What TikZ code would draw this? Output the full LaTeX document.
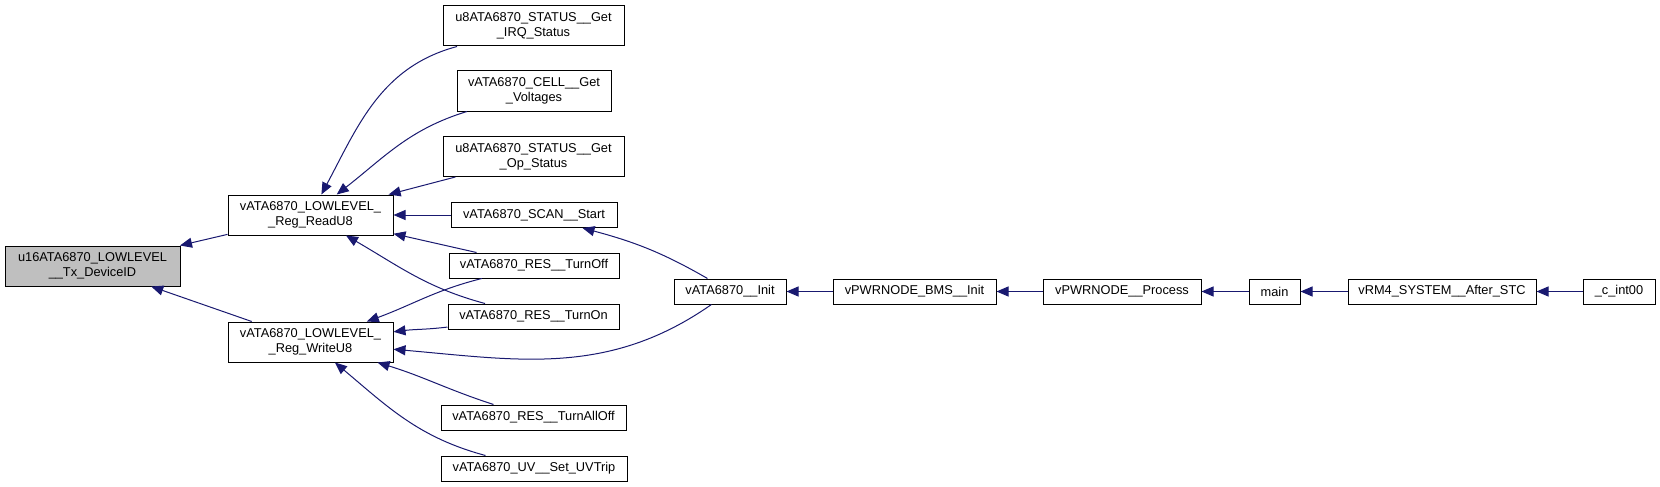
\documentclass[tikz,border=0pt]{standalone}
\usepackage{fontspec}
\setmainfont{Liberation Sans}
\usepackage{xcolor}
\definecolor{callnavy}{RGB}{25, 25, 112}
\definecolor{focusgrey}{RGB}{191, 191, 191}
\usetikzlibrary{arrows.meta}

\begin{document}
\begin{tikzpicture}[x=1pt, y=-1pt,
  fn/.style={draw=black, line width=1pt, fill=white, inner sep=0pt, minimum height=25pt, align=center, font=\fontsize{12.8}{15}\selectfont},
  fntwo/.style={fn, minimum height=40pt},
  call/.style={callnavy, line width=1pt, {Triangle[length=12pt, width=10pt]}-}]
  \useasboundingbox (0, 0) rectangle (1660, 487);

  % the function whose callers are shown
  \node[fntwo, fill=focusgrey, minimum width=175pt] (txid) at (92.5, 266) {u16ATA6870\_LOWLEVEL\\\_\_Tx\_DeviceID};

  % low level register access
  \node[fntwo, minimum width=165pt] (readu8) at (310.5, 215) {vATA6870\_LOWLEVEL\_\\\_Reg\_ReadU8};
  \node[fntwo, minimum width=165pt] (writeu8) at (310.5, 342) {vATA6870\_LOWLEVEL\_\\\_Reg\_WriteU8};

  % callers of the register access
  \node[fntwo, minimum width=181pt] (irqstat) at (533.5, 26) {u8ATA6870\_STATUS\_\_Get\\\_IRQ\_Status};
  \node[fntwo, minimum width=154pt] (cellvolt) at (534, 91) {vATA6870\_CELL\_\_Get\\\_Voltages};
  \node[fntwo, minimum width=181pt] (opstat) at (533.5, 156.5) {u8ATA6870\_STATUS\_\_Get\\\_Op\_Status};
  \node[fn, minimum width=166pt] (scanstart) at (534, 215) {vATA6870\_SCAN\_\_Start};
  \node[fn, minimum width=170pt] (resoff) at (534, 265.5) {vATA6870\_RES\_\_TurnOff};
  \node[fn, minimum width=171pt] (reson) at (533.5, 316.5) {vATA6870\_RES\_\_TurnOn};
  \node[fn, minimum width=185pt] (resalloff) at (533.5, 417.5) {vATA6870\_RES\_\_TurnAllOff};
  \node[fn, minimum width=186pt] (uvtrip) at (534, 468.5) {vATA6870\_UV\_\_Set\_UVTrip};

  % init chain up to the reset vector
  \node[fn, minimum width=112pt] (ataInit) at (730, 291.5) {vATA6870\_\_Init};
  \node[fn, minimum width=163pt] (bmsInit) at (914.5, 291.5) {vPWRNODE\_BMS\_\_Init};
  \node[fn, minimum width=158pt] (pwrProc) at (1122, 291.5) {vPWRNODE\_\_Process};
  \node[fn, minimum width=51pt] (mainfn) at (1274.5, 291.5) {main};
  \node[fn, minimum width=188pt] (afterStc) at (1442, 291.5) {vRM4\_SYSTEM\_\_After\_STC};
  \node[fn, minimum width=72pt] (cint) at (1619, 291.5) {\_c\_int00};

  % calls into the focus function
  \draw[call] (txid) -- (readu8);
  \draw[call] (txid) -- (writeu8);

  % calls into ReadU8
  \draw[call] (readu8) to[out=62, in=195] (irqstat);
  \draw[call] (readu8) to[out=38, in=197] (cellvolt);
  \draw[call] (readu8) -- (opstat);
  \draw[call] (readu8) -- (scanstart);
  \draw[call] (readu8) -- (resoff);
  \draw[call] (readu8) to[out=-30, in=165] (reson);

  % calls into WriteU8
  \draw[call] (writeu8) to[out=20, in=194] (resoff);
  \draw[call] (writeu8) to[out=7, in=187] (reson);
  \draw[call] (writeu8) to[out=-5, in=215] (ataInit);
  \draw[call] (writeu8) to[out=-17, in=162] (resalloff);
  \draw[call] (writeu8) to[out=-40, in=165] (uvtrip);

  % init chain
  \draw[call] (scanstart) to[out=-15, in=150] (ataInit);
  \draw[call] (ataInit) -- (bmsInit);
  \draw[call] (bmsInit) -- (pwrProc);
  \draw[call] (pwrProc) -- (mainfn);
  \draw[call] (mainfn) -- (afterStc);
  \draw[call] (afterStc) -- (cint);

\end{tikzpicture}
\end{document}
